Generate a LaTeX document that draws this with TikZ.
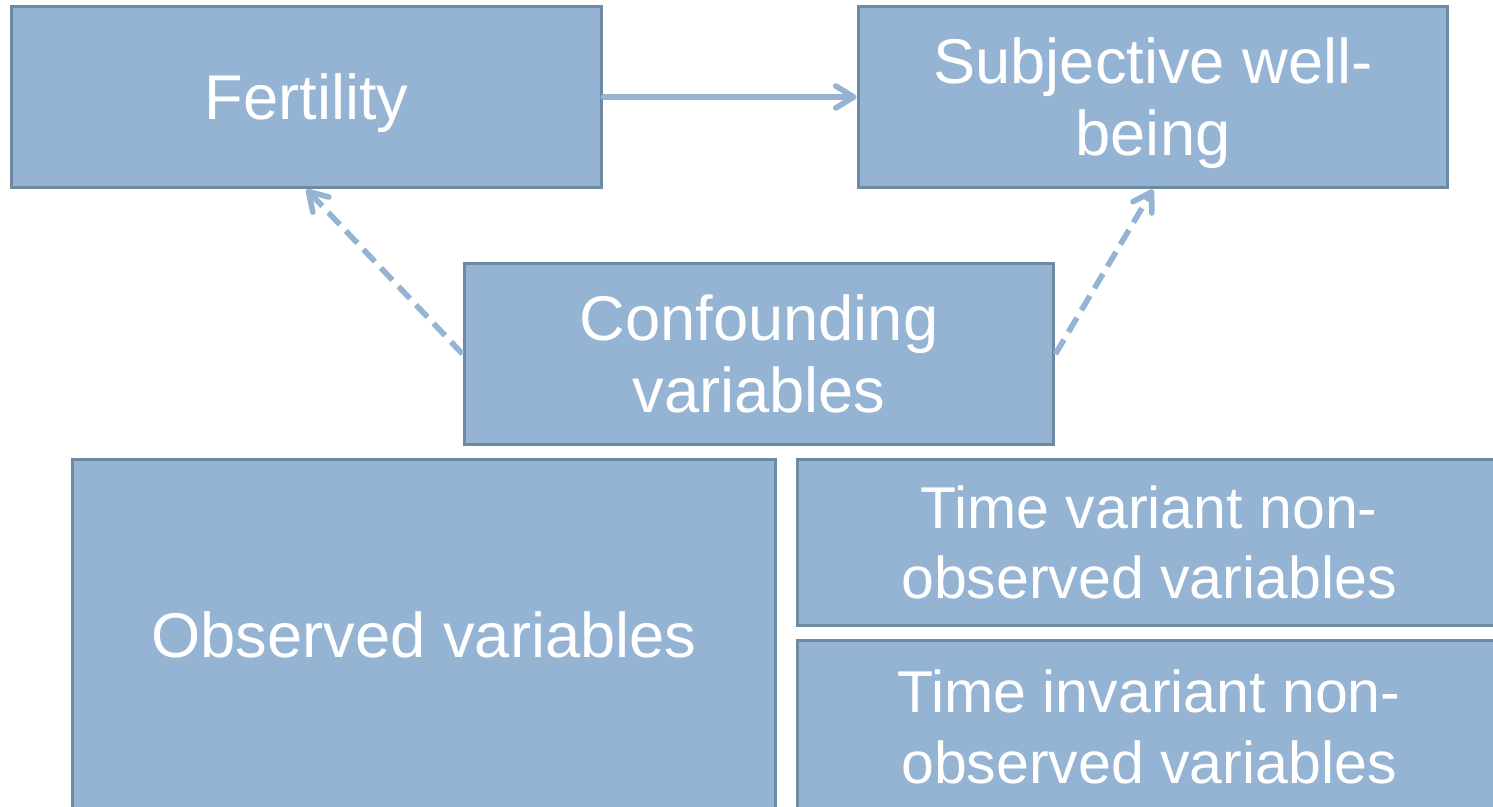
\documentclass[tikz,border=0pt]{standalone}
\usepackage{fontspec}
\setmainfont{Liberation Sans}
\usetikzlibrary{arrows.meta}
\definecolor{boxfill}{HTML}{95B3D3}
\definecolor{boxline}{HTML}{6E8AA2}
\begin{document}
\begin{tikzpicture}[
  x=0.02cm, y=-0.02cm,
  box/.style={
    draw=boxline,
    line width=1.7pt,
    fill=boxfill,
    text=white,
    inner sep=0pt,
    align=center,
    font=\fontsize{36}{41}\selectfont
  },
  box_small/.style={
    box,
    minimum width=11.8cm,
    minimum height=3.64cm
  },
  box_big/.style={
    box,
    minimum width=14.08cm,
    font=\fontsize{33.6}{40}\selectfont
  },
  link/.style={
    draw=boxfill,
    line width=3.2pt,
    line cap=round,
    line join=round,
    -{Straight Barb[length=0.36cm, width=0.44cm, line cap=round, line join=round]}
  },
  link_dashed/.style={
    link,
    line cap=butt,
    dash pattern=on 9.5pt off 5pt
  }
]%
\useasboundingbox (0,0) rectangle (1493,807);
\node [box_small, minimum width=11.82cm, text depth=0pt] (fert) at (306.5,97) {Fertility};
\node [box_small, text depth=0pt] (swb) at (1153,97) {Subjective well-\\being};
\node [box_small] (conf) at (759,354) {Confounding\\variables};
\node [box_big, minimum height=7.04cm, font=\fontsize{36}{41}\selectfont] (obs) at (424,635) {Observed variables};
\node [box_big, minimum height=3.34cm] (tv) at (1149,542.5) {Time variant non-\\observed variables};
\node [box_big, minimum height=3.48cm] (ti) at (1149,727) {Time invariant non-\\observed variables};
\draw [link] (fert.east) -- (swb.west);
\draw [link_dashed] (conf.west) -- (fert.south);
\draw [link_dashed] (conf.east) -- (swb.south);
\end{tikzpicture}
\end{document}
